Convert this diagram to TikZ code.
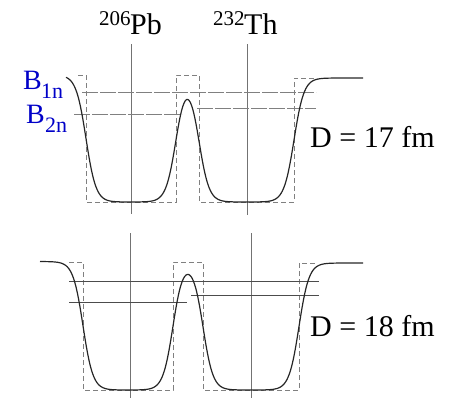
\documentclass[tikz,border=0pt]{standalone}
\usepackage{fontspec}
\setmainfont{Liberation Serif}
\definecolor{bblue}{RGB}{0,0,200}
\begin{document}
\begin{tikzpicture}[x=1pt,y=-1pt,
  declare function={fermi(\t)=1/(1+exp(min(max(\t,-9),9)));
    well(\u,\v,\w)=fermi((\u-\w)/5)*fermi((\v-\u)/5);},
  curve/.style={line width=1.2pt, draw=black!85, line join=round},
  boxline/.style={line width=0.9pt, draw=black!50, dash pattern=on 5pt off 3pt},
  levelA/.style={line width=0.9pt, draw=black!50, dash pattern=on 16pt off 2pt},
  levelB/.style={line width=0.9pt, draw=black!70},
  axis/.style={line width=0.9pt, draw=black!55},
  big/.style={anchor=base west, inner sep=0pt, font=\fontsize{30}{36}\selectfont},
  sup/.style={anchor=base west, inner sep=0pt, font=\fontsize{21}{25}\selectfont},
  blab/.style={anchor=base west, inner sep=0pt, text=bblue, font=\fontsize{28}{34}\selectfont},
  bsub/.style={anchor=base west, inner sep=0pt, text=bblue, font=\fontsize{22}{26}\selectfont}]
\useasboundingbox (0,0) rectangle (453,400);

% ---------- top panel (D = 17 fm) ----------
\draw[axis] (131,44) -- (131,214);
\draw[axis] (247,44) -- (247,215);
\draw[boxline] (78,75) -- (86,75) -- (86,202) -- (176,202) -- (176,75) -- (199,75)
  -- (199,202) -- (294,202) -- (294,78) -- (317,78);
\draw[levelA] (82,92) -- (316,92);
\draw[levelA] (74,114) -- (182,114);
\draw[levelA] (197,108) -- (316,108);
\draw[curve] plot[domain=66:363, samples=240, smooth]
  (\x, {202 - (202 - (75 + 3*fermi((187.5-\x)/5)))*(1 - well(\x,86,176) - well(\x,199,294))});

% ---------- bottom panel (D = 18 fm) ----------
\draw[axis] (130,233) -- (130,398);
\draw[axis] (251,233) -- (251,398);
\draw[boxline] (69,262) -- (83,262) -- (83,390) -- (173,390) -- (173,262) -- (203,262)
  -- (203,390) -- (299,390) -- (299,263) -- (317,263);
\draw[levelB] (69,281) -- (319,281);
\draw[levelB] (69,302) -- (187,302);
\draw[levelB] (191,295) -- (319,295);
\draw[curve] plot[domain=40:363, samples=260, smooth]
  (\x, {390 - (390 - (261.5 + 1.5*fermi((188-\x)/5)))*(1 - well(\x,83,173) - well(\x,203,299))});

% ---------- labels ----------
\node[sup] (pbA) at (99,25) {206};
\node[big] (pb) at (130,34) {Pb};
\node[sup] (thA) at (213,25) {232};
\node[big] (th) at (244,34) {Th};
\node[blab] (b1) at (23,89) {B};
\node[bsub] (b1s) at (41,98) {1n};
\node[blab] (b2) at (26,123) {B};
\node[bsub] (b2s) at (45,132) {2n};
\node[big] (d17) at (310,147) {D = 17 fm};
\node[big] (d18) at (310,336) {D = 18 fm};
\end{tikzpicture}
\end{document}
